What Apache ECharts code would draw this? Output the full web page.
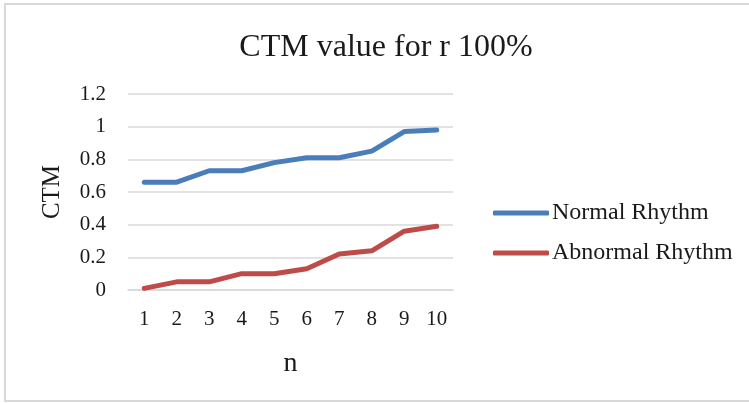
<!DOCTYPE html>
<html>
<head>
<meta charset="utf-8">
<script src="https://cdn.jsdelivr.net/npm/echarts@6/dist/echarts.min.js"></script>
<style>
  html, body { margin: 0; padding: 0; background: #ffffff; }
  #chart { width: 749px; height: 403px; }
</style>
</head>
<body>
<div id="chart"></div>
<script>
// Sample index n along the x axis
const categories = ['1', '2', '3', '4', '5', '6', '7', '8', '9', '10'];
// CTM values per rhythm type
const normalRhythm = [0.66, 0.66, 0.73, 0.73, 0.78, 0.81, 0.81, 0.85, 0.97, 0.98];
const abnormalRhythm = [0.01, 0.05, 0.05, 0.10, 0.10, 0.13, 0.22, 0.24, 0.36, 0.39];
const seriesNames = ['Normal Rhythm', 'Abnormal Rhythm'];

const serif = '"Liberation Serif", "Times New Roman", serif';
const textColor = '#1a1a1a';

const chart = echarts.init(document.getElementById('chart'), null, { renderer: 'canvas' });

chart.setOption({
  backgroundColor: '#ffffff',
  animation: false,
  graphic: [{
    type: 'rect',
    shape: { x: 5, y: 4, width: 780, height: 397 },
    style: { fill: 'none', stroke: '#d9d9d9', lineWidth: 2 },
    silent: true
  }],
  title: {
    text: 'CTM value for r 100%',
    left: 381,
    textAlign: 'center',
    top: 27,
    textStyle: { fontFamily: serif, fontSize: 32, fontWeight: 'normal', color: textColor }
  },
  legend: {
    orient: 'vertical',
    left: 488,
    top: 196,
    itemWidth: 56,
    itemHeight: 5,
    itemGap: 16,
    icon: 'roundRect',
    data: seriesNames,
    textStyle: { fontFamily: serif, fontSize: 24, color: textColor, padding: [0, 0, 0, -2] }
  },
  grid: { left: 128, right: 296, top: 94, bottom: 113 },
  xAxis: {
    type: 'category',
    data: categories,
    boundaryGap: true,
    name: 'n',
    nameLocation: 'middle',
    nameGap: 60,
    nameTextStyle: { fontFamily: serif, fontSize: 28, color: textColor },
    axisLine: { lineStyle: { color: '#d9d9d9', width: 1.5 } },
    axisTick: { show: false },
    axisLabel: { fontFamily: serif, fontSize: 21, color: textColor, margin: 19 }
  },
  yAxis: {
    type: 'value',
    min: 0,
    max: 1.2,
    interval: 0.2,
    name: 'CTM',
    nameLocation: 'middle',
    nameRotate: 90,
    nameGap: 63,
    nameTextStyle: { fontFamily: serif, fontSize: 25, color: textColor },
    axisLine: { show: false },
    axisTick: { show: false },
    splitLine: { lineStyle: { color: '#d9d9d9', width: 1.5 } },
    axisLabel: {
      fontFamily: serif, fontSize: 21, color: textColor, margin: 22,
      formatter: v => String(Math.round(v * 10) / 10)
    }
  },
  series: [
    {
      name: seriesNames[0],
      type: 'line',
      data: normalRhythm,
      symbol: 'none',
      lineStyle: { color: '#4a7ebb', width: 5, cap: 'round', join: 'round' },
      itemStyle: { color: '#4a7ebb' }
    },
    {
      name: seriesNames[1],
      type: 'line',
      data: abnormalRhythm,
      symbol: 'none',
      lineStyle: { color: '#be4b48', width: 5, cap: 'round', join: 'round' },
      itemStyle: { color: '#be4b48' }
    }
  ]
});
</script>
</body>
</html>
